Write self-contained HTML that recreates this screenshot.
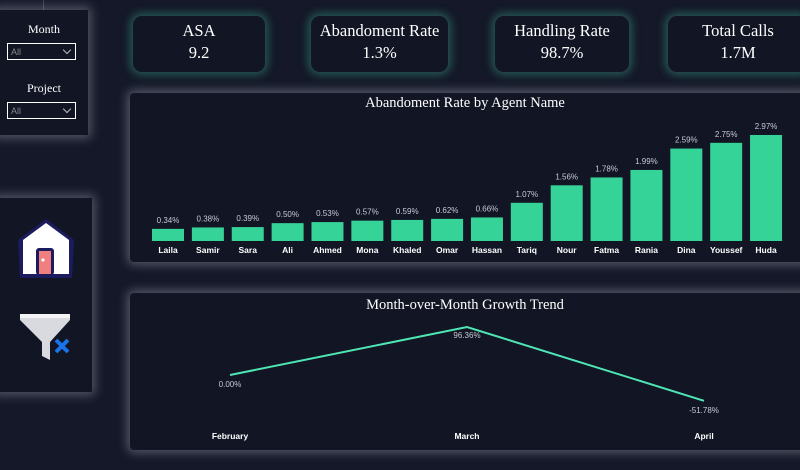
<!DOCTYPE html>
<html><head><meta charset="utf-8"><style>
*{margin:0;padding:0;box-sizing:border-box}
body{width:800px;height:470px;background:#141828;overflow:hidden;position:relative;font-family:"Liberation Serif",serif;color:#fff}
.panel{position:absolute;background:#111524;box-shadow:0 0 10px 3px rgba(200,205,220,0.35);border-radius:4px}
.kpi{position:absolute;background:#111524;border-radius:9px;box-shadow:0 0 9px 3px rgba(60,170,140,0.45);text-align:center}
.kpi .t{font-size:16.5px;margin-top:5px}
.kpi .v{font-size:16.5px;margin-top:2px}
.lbl{position:absolute;width:88px;text-align:center;font-size:12px}
.dd{position:absolute;left:7px;width:69px;height:17px;border:1.5px solid #fff;font-family:"Liberation Sans",sans-serif;font-size:9px;color:#888;padding:3px 0 0 3px}
.dd:after{content:"";position:absolute;right:5px;top:3px;width:5px;height:5px;border-right:1px solid #bbb;border-bottom:1px solid #bbb;transform:rotate(45deg)}
svg text{font-family:"Liberation Sans",sans-serif}
</style></head><body>
<div class="panel" style="left:-10px;top:-10px;width:54px;height:30px;background:#141828;border:1px solid #3a3f50;box-shadow:none"></div>
<div class="panel" style="left:-4px;top:10px;width:92px;height:125px;border-radius:0">
</div>
<div class="lbl" style="left:0;top:22px">Month</div>
<div class="dd" style="top:43px">All</div>
<div class="lbl" style="left:0;top:81px">Project</div>
<div class="dd" style="top:102px">All</div>

<div class="panel" style="left:-4px;top:198px;width:96px;height:194px;border-radius:0"></div>
<svg style="position:absolute;left:15px;top:216px" width="62" height="64" viewBox="0 0 62 64">
<polygon points="3,24 31,3 59,24 57,62 5,62" fill="#1b1b5e"/>
<polygon points="8,24 31,7 54,24 54,58 8,58" fill="#fff"/>
<rect x="21" y="32" width="18" height="27" rx="3" fill="#1b1b5e"/>
<rect x="24" y="35" width="12" height="23" fill="#f07f80"/>
<circle cx="28" cy="44" r="1.6" fill="#fff"/>
</svg>
<svg style="position:absolute;left:18px;top:312px" width="56" height="50" viewBox="0 0 56 50">
<polygon points="2,2 52,2 52,8 32,30 32,48 24,44 24,30 2,8" fill="#d8dae0"/>
<rect x="2" y="2" width="50" height="4" fill="#f4f4f6"/>
<path d="M38,28 L50,40 M50,28 L38,40" stroke="#1a73e8" stroke-width="4"/>
</svg>

<div class="kpi" style="left:133px;top:16px;width:132px;height:56px"><div class="t">ASA</div><div class="v">9.2</div></div>
<div class="kpi" style="left:311px;top:16px;width:137px;height:56px"><div class="t">Abandoment Rate</div><div class="v">1.3%</div></div>
<div class="kpi" style="left:495px;top:16px;width:134px;height:56px"><div class="t">Handling Rate</div><div class="v">98.7%</div></div>
<div class="kpi" style="left:668px;top:16px;width:140px;height:56px"><div class="t">Total Calls</div><div class="v">1.7M</div></div>

<div class="panel" style="left:130px;top:93px;width:680px;height:169px"></div>
<div style="position:absolute;left:130px;top:95px;width:670px;text-align:center;font-size:14.5px">Abandoment Rate by Agent Name</div>
<svg id="bars" style="position:absolute;left:0;top:0" width="800" height="470"></svg>

<div class="panel" style="left:130px;top:293px;width:680px;height:157px"></div>
<div style="position:absolute;left:130px;top:297px;width:670px;text-align:center;font-size:14.5px">Month-over-Month Growth Trend</div>
<svg id="line" style="position:absolute;left:0;top:0" width="800" height="470"></svg>

<script>
const agents=["Laila","Samir","Sara","Ali","Ahmed","Mona","Khaled","Omar","Hassan","Tariq","Nour","Fatma","Rania","Dina","Youssef","Huda"];
const rates=[0.34,0.38,0.39,0.50,0.53,0.57,0.59,0.62,0.66,1.07,1.56,1.78,1.99,2.59,2.75,2.97];
const months=["February","March","April"];
const growth=[0.00,96.36,-51.78];
const NS="http://www.w3.org/2000/svg";
function mk(p,tag,a,txt){const e=document.createElementNS(NS,tag);for(const k in a)e.setAttribute(k,a[k]);if(txt!==undefined)e.textContent=txt;p.appendChild(e);return e;}
// bar chart
const bs=document.getElementById('bars');
const bx=i=>168+i*39.87, by=v=>241-v*35.7;
agents.forEach((n,i)=>{
 const r=mk(bs,'rect',{x:bx(i)-16,y:by(rates[i]),width:32,height:241-by(rates[i]),fill:'#36d399'});
 
 
 const t=mk(bs,'text',{x:bx(i),y:by(rates[i])-6,'text-anchor':'middle','font-size':'8',fill:'#c8cbd4'},rates[i].toFixed(2)+'%');
 
 
 const c=mk(bs,'text',{x:bx(i),y:253,'text-anchor':'middle','font-size':'8.5','font-weight':'bold',fill:'#fff'},n);
 
 
});
// line chart
const ls=document.getElementById('line');
const lx=i=>230+i*237, ly=v=>375-v*0.498;
const pl=mk(ls,'polyline',{points:growth.map((v,i)=>lx(i)+','+ly(v)).join(' '),fill:'none',stroke:'#4ee6b4','stroke-width':'2'});


months.forEach((m,i)=>{
 const above=growth[i]>growth[Math.max(0,i-1)]&&i>0&&i<months.length-1;
 const t=mk(ls,'text',{x:lx(i),y:above?ly(growth[i])+11:ly(growth[i])+12,'text-anchor':'middle','font-size':'8',fill:'#c8cbd4'},growth[i].toFixed(2)+'%');
 
 
 const c=mk(ls,'text',{x:lx(i),y:439,'text-anchor':'middle','font-size':'8.5','font-weight':'bold',fill:'#fff'},m);
 
 
});
</script>
</body></html>
